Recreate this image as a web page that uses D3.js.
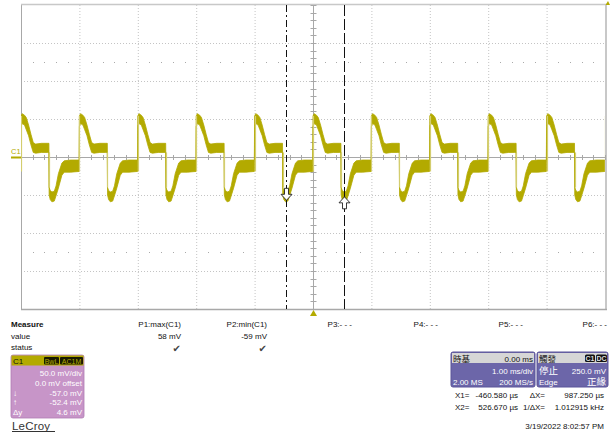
<!DOCTYPE html>
<html><head><meta charset="utf-8">
<script src="https://cdn.jsdelivr.net/npm/d3@7"></script>
<style>
html,body{margin:0;padding:0;background:#fff;}
svg{display:block;font-family:"Liberation Sans",Arial,sans-serif;}
</style></head>
<body>
<svg id="c" width="610" height="434"></svg>
<script>
const timeDivs = [-5,-4,-3,-2,-1,0,1,2,3,4,5];            // ms, 1.00 ms/div
const voltDivs = [-200,-150,-100,-50,0,50,100,150,200];   // mV, 50 mV/div
const periodStarts = [-5,-4,-3,-2,-1,0,1,2,3,4];          // rising edges (ms)
const risingEdges = [-5,-4,-3,-2,-1,0,1,2,3,4,5];
const fallOffset = 0.48;                                   // ms after rising edge
// one period of the trace envelope (tau in ms, mV)
const envTau   = [0.000,0.020,0.060,0.090,0.130,0.170,0.210,0.250,0.350,0.450,0.478,0.482,0.500,0.530,0.570,0.600,0.640,0.700,0.740,0.850,0.996];
const envUpper = [54,   57,   55,   52,   42,   30,   19,   17,   18,   18,   18,  -40,  -44,  -46,  -45,  -38,  -22,  -8,   -5,   -4,   -4];
const envLower = [40,   44,   42,   36,   28,   16,   6,    5,    6,    6,    6,   -50,  -56,  -59,  -58,  -51,  -41,  -24,  -20,  -20,  -19];
const cursorTimes = [-0.46058, 0.52667];   // ms
const cursorLevels = [-57.0, -52.4];       // mV
const measLabels = ["P1:max(C1)","P2:min(C1)","P3:- - -","P4:- - -","P5:- - -","P6:- - -"];
const measValues = ["58 mV","-59 mV","","","",""];
const measStatus = [true,true,false,false,false,false];
const chRows = ["50.0 mV/div","0.0 mV offset","-57.0 mV","-52.4 mV","4.6 mV"];
const chRowLabels = ["","","↓","↑","Δy"];
const cursorText = [["X1=","-460.580 µs","ΔX=","987.250 µs"],["X2=","526.670 µs","1/ΔX=","1.012915 kHz"]];
const timebase = {title:"時基", delay:"0.00 ms", perDiv:"1.00 ms/div", samples:"2.00 MS", rate:"200 MS/s"};
const trigger = {title:"觸發", state:"停止", level:"250.0 mV", type:"Edge", slope:"正緣"};
const dateText = "3/19/2022 8:02:57 PM";

// ---- drawing ----
const svg = d3.select("#c");
const TRACE = "#b3aa00", EDGE = "#d3cd6e", GRID = "#c4c4c4", AXIS = "#a8a8a8";
const x = d3.scaleLinear().domain([-5,5]).range([21,605]);
const y = d3.scaleLinear().domain([-200,200]).range([309,5]);

const g = svg.append("g");
// dotted grid
g.selectAll(".vg").data(timeDivs.filter(d=>d!==0 && Math.abs(d)!==5)).enter().append("line")
  .attr("x1",d=>x(d)+0.5).attr("x2",d=>x(d)+0.5).attr("y1",y(200)).attr("y2",y(-200))
  .attr("stroke",GRID).attr("stroke-dasharray","1,2");
g.selectAll(".hg").data(voltDivs.filter(d=>d!==0 && Math.abs(d)!==200)).enter().append("line")
  .attr("y1",d=>Math.round(y(d))+0.5).attr("y2",d=>Math.round(y(d))+0.5).attr("x1",x(-5)).attr("x2",x(5))
  .attr("stroke",GRID).attr("stroke-dasharray","1,2");
// minor dot rows at +/-2.5 div
const minorT = d3.range(-50,51).map(i=>i/10).filter(t=>Math.abs(t*5-Math.round(t*5))<1e-6 && Math.abs(t-Math.round(t))>1e-6);
[125,-125].forEach(v=>{
  g.selectAll(null).data(minorT).enter().append("rect")
   .attr("x",d=>Math.round(x(d))).attr("y",Math.round(y(v))).attr("width",1).attr("height",1).attr("fill","#aaa");
});
// border
g.append("line").attr("x1",x(-5)+0.5).attr("x2",x(-5)+0.5).attr("y1",y(200)).attr("y2",y(-200)).attr("stroke",AXIS);
g.append("line").attr("x1",x(5)+1).attr("x2",x(5)+1).attr("y1",y(200)-1).attr("y2",y(-200)).attr("stroke","#c8c8c8").attr("stroke-width",2);
g.append("line").attr("x1",x(-5)).attr("x2",x(5)+2).attr("y1",y(200)-0.5).attr("y2",y(200)-0.5).attr("stroke","#c8c8c8").attr("stroke-width",1.5);
g.append("line").attr("x1",x(-5)).attr("x2",x(5)+2).attr("y1",y(-200)+0.5).attr("y2",y(-200)+0.5).attr("stroke",AXIS).attr("stroke-width",1.5);
// center axes with ticks
g.append("line").attr("x1",x(-5)).attr("x2",x(5)).attr("y1",y(0)+0.5).attr("y2",y(0)+0.5).attr("stroke",AXIS);
g.append("line").attr("x1",x(0)+0.5).attr("x2",x(0)+0.5).attr("y1",y(200)).attr("y2",y(-200)).attr("stroke",AXIS);
g.selectAll(".xt").data(x.ticks(50)).enter().append("line")
  .attr("x1",d=>Math.round(x(d))+0.5).attr("x2",d=>Math.round(x(d))+0.5).attr("y1",y(0)-2).attr("y2",y(0)+3).attr("stroke",AXIS);
g.selectAll(".yt").data(y.ticks(40)).enter().append("line")
  .attr("y1",d=>Math.round(y(d))+0.5).attr("y2",d=>Math.round(y(d))+0.5).attr("x1",x(0)-2.5).attr("x2",x(0)+3.5).attr("stroke",AXIS);

// trace
const pts = [];
periodStarts.forEach(s=>envTau.forEach((t,i)=>pts.push({t:s+t,u:envUpper[i],l:envLower[i]})));
const area = d3.area().x(d=>x(d.t)).y0(d=>y(d.l)).y1(d=>y(d.u));
const clip = svg.append("clipPath").attr("id","pc").append("rect").attr("x",x(-5)).attr("y",y(200)).attr("width",x(5)-x(-5)).attr("height",y(-200)-y(200));
const tg = svg.append("g").attr("clip-path","url(#pc)");
tg.append("path").datum(pts).attr("d",area).attr("fill",TRACE).attr("stroke",TRACE).attr("stroke-width",0.8).attr("stroke-linejoin","round");
// fast edges
const lastI = envTau.length-1, fi = envTau.indexOf(0.478);
tg.selectAll(".re").data(risingEdges).enter().append("line")
  .attr("x1",d=>Math.round(x(d))+0.5).attr("x2",d=>Math.round(x(d))+0.5)
  .attr("y1",y(envLower[lastI])).attr("y2",y(envUpper[0]))
  .attr("stroke",EDGE).attr("stroke-width",1.2);
tg.selectAll(".fe").data(periodStarts).enter().append("line")
  .attr("x1",d=>Math.round(x(d+fallOffset))+0.5).attr("x2",d=>Math.round(x(d+fallOffset))+0.5)
  .attr("y1",y(envLower[fi])).attr("y2",y(envUpper[fi+1]))
  .attr("stroke",EDGE).attr("stroke-width",1.2);

// cursors
svg.append("line").attr("x1",Math.round(x(cursorTimes[0]))+0.5).attr("x2",Math.round(x(cursorTimes[0]))+0.5)
  .attr("y1",y(200)).attr("y2",y(-200)).attr("stroke","#111").attr("stroke-dasharray","7,3,2,3");
svg.append("line").attr("x1",Math.round(x(cursorTimes[1]))+0.5).attr("x2",Math.round(x(cursorTimes[1]))+0.5)
  .attr("y1",y(200)).attr("y2",y(-200)).attr("stroke","#111").attr("stroke-dasharray","11,3");
function arrow(cx,tip,dir){ // dir=1 pointing down (body above), -1 pointing up
  const s=dir;
  const p=[[cx,tip],[cx-5.5,tip-6*s],[cx-2,tip-6*s],[cx-2,tip-12*s],[cx+2,tip-12*s],[cx+2,tip-6*s],[cx+5.5,tip-6*s]];
  return "M"+p.map(q=>q.join(",")).join("L")+"Z";
}
svg.append("path").attr("d",arrow(Math.round(x(cursorTimes[0]))+0.5,y(cursorLevels[0]),1)).attr("fill","#fff").attr("stroke","#222").attr("stroke-width",0.9);
svg.append("path").attr("d",arrow(Math.round(x(cursorTimes[1]))+0.5,y(cursorLevels[1]),-1)).attr("fill","#fff").attr("stroke","#222").attr("stroke-width",0.9);

// channel marker and trigger markers
svg.append("text").attr("x",11).attr("y",154).attr("font-size",7.5).attr("fill",TRACE).text("C1");
svg.append("line").attr("x1",11).attr("x2",21).attr("y1",y(0)+0.5).attr("y2",y(0)+0.5).attr("stroke",TRACE).attr("stroke-width",2);
svg.append("path").attr("d",`M${x(0)+0.5},310L${x(0)-3},316L${x(0)+4},316Z`).attr("fill",TRACE);
svg.append("path").attr("d",`M608,1L605.5,5L610,5Z`).attr("fill",TRACE);

// measure table
const fs = 8;
const mt = svg.append("g").attr("font-size",fs).attr("fill","#111");
mt.append("text").attr("x",11).attr("y",327).attr("font-weight","bold").text("Measure");
mt.append("text").attr("x",11).attr("y",339).text("value");
mt.append("text").attr("x",11).attr("y",350).text("status");
const measRight = [181,267,352,438,523,607];
measLabels.forEach((l,i)=>{
  mt.append("text").attr("x",measRight[i]).attr("y",327).attr("text-anchor","end").text(l);
  if(measValues[i]) mt.append("text").attr("x",measRight[i]).attr("y",339).attr("text-anchor","end").text(measValues[i]);
  if(measStatus[i]) mt.append("text").attr("x",measRight[i]).attr("y",352).attr("text-anchor","end")
     .attr("font-family","DejaVu Sans").attr("font-size",10).attr("fill","#444").text("✔");
});

// channel box
const cb = svg.append("g");
cb.append("rect").attr("x",11).attr("y",355).attr("width",73).attr("height",63).attr("rx",2).attr("fill","#c795c8").attr("stroke","#b07cb2").attr("stroke-width",0.8);
cb.append("rect").attr("x",11.5).attr("y",355.5).attr("width",72).attr("height",10).attr("fill",TRACE);
cb.append("text").attr("x",13).attr("y",364).attr("font-size",8).attr("fill","#111").text("C1");
[["BwL",44,15],["AC1M",60,23]].forEach(([t,bx,w])=>{
  cb.append("rect").attr("x",bx).attr("y",357).attr("width",w).attr("height",7.5).attr("rx",1).attr("fill","#1a1a00");
  cb.append("text").attr("x",bx+w/2).attr("y",363.5).attr("text-anchor","middle").attr("font-size",7).attr("fill",TRACE).text(t);
});
const rowY = [376,386,396,405,415];
chRows.forEach((r,i)=>{
  cb.append("text").attr("x",82).attr("y",rowY[i]).attr("text-anchor","end").attr("font-size",8).attr("fill","#fff").text(r);
  if(chRowLabels[i]) cb.append("text").attr("x",13).attr("y",rowY[i]).attr("font-size",8).attr("fill","#fff").text(chRowLabels[i]);
});
svg.append("text").attr("x",12).attr("y",430).attr("font-size",11.5).attr("fill","#333").attr("letter-spacing",0.2).text("LeCroy");
svg.append("line").attr("x1",12).attr("x2",55).attr("y1",431.5).attr("y2",431.5).attr("stroke","#333");

// timebase & trigger boxes
const CJK = "'Noto Sans CJK TC','Noto Sans CJK SC',sans-serif";
function box(x0,w){
  svg.append("rect").attr("x",x0).attr("y",352).attr("width",w).attr("height",35).attr("rx",2).attr("fill","#6c66a9").attr("stroke","#5a5499");
  svg.append("rect").attr("x",x0+1).attr("y",353).attr("width",w-2).attr("height",10).attr("fill","#d6d6d6");
}
box(451,84); box(537,71);
svg.append("text").attr("x",453).attr("y",362).attr("font-size",8.5).attr("font-family",CJK).attr("fill","#111").text(timebase.title);
svg.append("text").attr("x",533).attr("y",361.5).attr("text-anchor","end").attr("font-size",8).attr("fill","#111").text(timebase.delay);
svg.append("text").attr("x",533).attr("y",373.5).attr("text-anchor","end").attr("font-size",8).attr("fill","#fff").text(timebase.perDiv);
svg.append("text").attr("x",453).attr("y",384.5).attr("font-size",8).attr("fill","#fff").text(timebase.samples);
svg.append("text").attr("x",533).attr("y",384.5).attr("text-anchor","end").attr("font-size",8).attr("fill","#fff").text(timebase.rate);
svg.append("text").attr("x",539).attr("y",362).attr("font-size",8.5).attr("font-family",CJK).attr("fill","#111").text(trigger.title);
[["C1",585,10],["DC",596,11]].forEach(([t,bx,w])=>{
  svg.append("rect").attr("x",bx).attr("y",354.5).attr("width",w).attr("height",7.5).attr("rx",1.5).attr("fill","#111");
  svg.append("text").attr("x",bx+w/2).attr("y",361).attr("text-anchor","middle").attr("font-size",7).attr("font-weight","bold").attr("fill","#ddd").text(t);
});
svg.append("text").attr("x",539).attr("y",374).attr("font-size",9.5).attr("font-family",CJK).attr("fill","#fff").text(trigger.state);
svg.append("text").attr("x",606).attr("y",373.5).attr("text-anchor","end").attr("font-size",8).attr("fill","#fff").text(trigger.level);
svg.append("text").attr("x",539).attr("y",384.5).attr("font-size",8).attr("fill","#fff").text(trigger.type);
svg.append("text").attr("x",606).attr("y",385).attr("text-anchor","end").attr("font-size",9.5).attr("font-family",CJK).attr("fill","#fff").text(trigger.slope);

// cursor readouts
const cr = svg.append("g").attr("font-size",8).attr("fill","#111");
cursorText.forEach((r,i)=>{
  const yy = 398+i*12;
  cr.append("text").attr("x",455).attr("y",yy).text(r[0]);
  cr.append("text").attr("x",518).attr("y",yy).attr("text-anchor","end").text(r[1]);
  cr.append("text").attr("x",545).attr("y",yy).attr("text-anchor","end").text(r[2]);
  cr.append("text").attr("x",604).attr("y",yy).attr("text-anchor","end").text(r[3]);
});
svg.append("text").attr("x",604).attr("y",429).attr("text-anchor","end").attr("font-size",8).attr("fill","#111").text(dateText);
</script>
</body></html>
